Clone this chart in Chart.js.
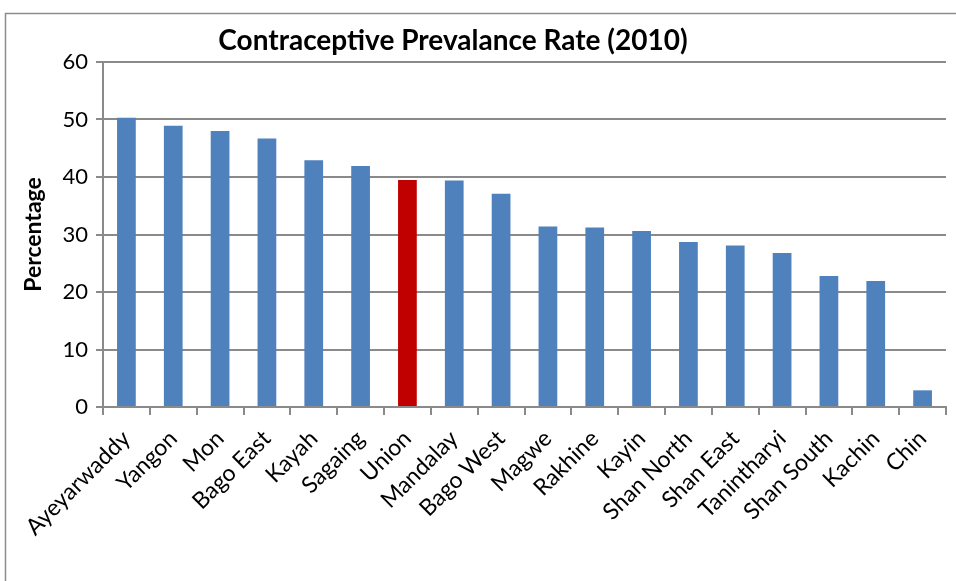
<!DOCTYPE html>
<html>
<head>
<meta charset="utf-8">
<script src="https://cdn.jsdelivr.net/npm/chart.js@4"></script>
<style>
    html, body { margin: 0; padding: 0; background: #fff; }
    #wrap { position: relative; width: 956px; height: 581px; }
</style>
</head>
<body>
<div id="wrap"><canvas id="cprChart" width="956" height="581"></canvas></div>
<script>
// ============================================
// Data
// ============================================
const regions = [
    'Ayeyarwaddy', 'Yangon', 'Mon', 'Bago East', 'Kayah', 'Sagaing',
    'Union', 'Mandalay', 'Bago West', 'Magwe', 'Rakhine', 'Kayin',
    'Shan North', 'Shan East', 'Tanintharyi', 'Shan South', 'Kachin', 'Chin'
];
const rates = [
    50.3, 48.9, 48.0, 46.7, 42.9, 41.9,
    39.5, 39.4, 37.1, 31.4, 31.2, 30.6,
    28.7, 28.1, 26.8, 22.8, 21.9, 2.9
];
const yTicks = [0, 10, 20, 30, 40, 50, 60];
const highlight = 'Union';

const FONT = "Lato, 'Liberation Sans', sans-serif";
const gridColor = '#8a8a8a';

// ============================================
// Frame + title plugin
// ============================================
const framePlugin = {
    id: 'frame',
    beforeDraw(chart) {
        const ctx = chart.ctx;
        ctx.save();
        ctx.strokeStyle = '#8c8c8c';
        ctx.lineWidth = 1.5;
        ctx.beginPath();
        ctx.moveTo(5.5, 581);
        ctx.lineTo(5.5, 13.5);
        ctx.lineTo(956, 13.5);
        ctx.stroke();
        ctx.restore();
    },
    afterDraw(chart) {
        const ctx = chart.ctx;
        ctx.save();
        ctx.fillStyle = '#000';
        ctx.font = `bold 28px ${FONT}`;
        ctx.textAlign = 'center';
        ctx.textBaseline = 'middle';
        ctx.fillText('Contraceptive Prevalance Rate (2010)', 453, 41);
        ctx.restore();
    }
};

// ============================================
// Chart
// ============================================
new Chart(document.getElementById('cprChart').getContext('2d'), {
    type: 'bar',
    data: {
        labels: regions,
        datasets: [{
            data: rates,
            backgroundColor: regions.map(r => r === highlight ? '#c00000' : '#4f81bd'),
            categoryPercentage: 0.4,
            barPercentage: 1.0
        }]
    },
    options: {
        responsive: false,
        animation: false,
        layout: { padding: { top: 62, right: 10, left: 20, bottom: 0 } },
        plugins: {
            legend: { display: false },
            tooltip: { enabled: false }
        },
        scales: {
            x: {
                offset: true,
                grid: {
                    offset: true,
                    drawOnChartArea: false,
                    drawTicks: true,
                    tickLength: 8,
                    color: gridColor,
                    lineWidth: 2
                },
                border: { color: gridColor, width: 2 },
                ticks: {
                    color: '#000',
                    font: { family: FONT, size: 23 },
                    maxRotation: 45,
                    minRotation: 45,
                    autoSkip: false,
                    padding: 10
                },
                afterFit: s => { s.height = 174; }
            },
            y: {
                min: 0,
                max: 60,
                afterBuildTicks: s => { s.ticks = yTicks.map(v => ({ value: v })); },
                grid: {
                    color: gridColor,
                    lineWidth: 2,
                    drawTicks: true,
                    tickLength: 7
                },
                border: { color: gridColor, width: 2 },
                ticks: {
                    color: '#000',
                    font: { family: FONT, size: 22 },
                    padding: 8
                },
                title: {
                    display: true,
                    text: 'Percentage',
                    color: '#000',
                    font: { family: FONT, size: 23, weight: 'bold' },
                    padding: { top: 0, bottom: 14 }
                },
                afterFit: s => { s.width = 83; }
            }
        }
    },
    plugins: [framePlugin]
});
</script>
</body>
</html>
